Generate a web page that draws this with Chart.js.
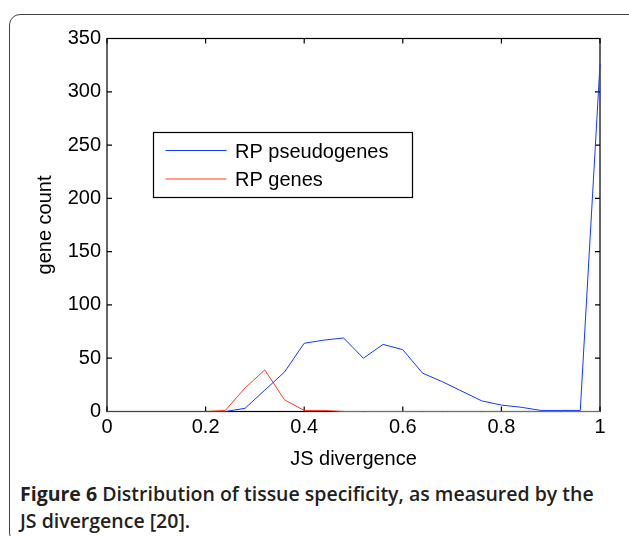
<!DOCTYPE html>
<html>
<head>
<meta charset="utf-8">
<script src="https://cdn.jsdelivr.net/npm/chart.js@4.4.0/dist/chart.umd.min.js"></script>
<style>
  body { margin: 0; background: #fff; width: 629px; height: 536px; overflow: hidden; position: relative; }
  #frame { position: absolute; left: 9px; top: 14px; width: 640px; height: 530px; border: 1.5px solid #444; border-radius: 11px; box-sizing: border-box; }
  #plot { position: absolute; left: 0; top: 0; }
  #caption { position: absolute; left: 20px; top: 480px; width: 610px; white-space: nowrap; font-family: "Open Sans", sans-serif; font-size: 19.5px; line-height: 27px; color: #231f20; font-weight: 600; }
  #caption b { font-weight: 700; }
</style>
</head>
<body>
<div id="frame"></div>
<canvas id="plot" width="629" height="480"></canvas>
<div id="caption"><b>Figure 6</b> Distribution of tissue specificity, as measured by the<br>JS divergence [20].</div>

<script>
// bin centres on the JS divergence axis
var bins = [0, 0.04, 0.08, 0.12, 0.16, 0.20, 0.24, 0.28, 0.32, 0.36, 0.40, 0.44, 0.48,
            0.52, 0.56, 0.60, 0.64, 0.68, 0.72, 0.76, 0.80, 0.84, 0.88, 0.92, 0.96, 1.00];

var pseudogeneCounts = [0, 0, 0, 0, 0, 0, 0, 3, 20, 37, 64, 67, 69,
                        50, 63, 58, 36, 28, 19, 10, 6, 4, 1, 1, 1, 326];

var geneCounts = [0, 0, 0, 0, 0, 0, 1, 22, 39, 11, 1, 1, 0,
                  0, 0, 0, 0, 0, 0, 0, 0, 0, 0, 0, 0, 0];

var xTicks = [0, 0.2, 0.4, 0.6, 0.8, 1];
var yTicks = [0, 50, 100, 150, 200, 250, 300, 350];

var seriesNames = ['RP pseudogenes', 'RP genes'];
var seriesColors = ['#1538ff', '#ff3a1f'];

var axisFont = { family: 'Liberation Sans, Arial, sans-serif', size: 20 };

function toPoints(vals) {
	return bins.map(function (b, i) { return { x: b, y: vals[i] }; });
}

// box around the axes with the ticks pointing inwards, like matlab
var frameBox = {
	id: 'frameBox',
	beforeDatasetsDraw: function (chart) {
		var ctx = chart.ctx;
		var a = chart.chartArea;
		var xs = chart.scales.x, ys = chart.scales.y;
		var len = 5;
		ctx.save();
		ctx.strokeStyle = '#000';
		ctx.lineWidth = 1.2;
		ctx.strokeRect(a.left, a.top, a.right - a.left, a.bottom - a.top);
		ctx.beginPath();
		xTicks.forEach(function (t) {
			var px = xs.getPixelForValue(t);
			ctx.moveTo(px, a.bottom); ctx.lineTo(px, a.bottom - len);
			ctx.moveTo(px, a.top); ctx.lineTo(px, a.top + len);
		});
		yTicks.forEach(function (t) {
			var py = ys.getPixelForValue(t);
			ctx.moveTo(a.left, py); ctx.lineTo(a.left + len, py);
			ctx.moveTo(a.right, py); ctx.lineTo(a.right - len, py);
		});
		ctx.stroke();
		ctx.restore();
	}
};

// legend box sitting inside the plot
var boxLegend = {
	id: 'boxLegend',
	afterDraw: function (chart) {
		var ctx = chart.ctx;
		var x0 = 153.5, y0 = 132.5, w = 259, h = 65;
		ctx.save();
		ctx.fillStyle = '#fff';
		ctx.fillRect(x0, y0, w, h);
		ctx.strokeStyle = '#000';
		ctx.lineWidth = 1.2;
		ctx.strokeRect(x0, y0, w, h);
		ctx.font = '20px ' + axisFont.family;
		ctx.textBaseline = 'middle';
		chart.data.datasets.forEach(function (ds, i) {
			var ly = y0 + 18 + i * 28.5;
			ctx.strokeStyle = ds.borderColor;
			ctx.lineWidth = 1;
			ctx.beginPath();
			ctx.moveTo(x0 + 12, ly);
			ctx.lineTo(x0 + 73, ly);
			ctx.stroke();
			ctx.fillStyle = '#000';
			ctx.fillText(ds.label, x0 + 81.5, ly + 1.5);
		});
		ctx.restore();
	}
};

new Chart(document.getElementById('plot'), {
	type: 'line',
	data: {
		datasets: [{
			label: seriesNames[0],
			data: toPoints(pseudogeneCounts),
			borderColor: seriesColors[0],
			borderWidth: 1,
			pointRadius: 0,
			tension: 0,
			fill: false,
			clip: false
		}, {
			label: seriesNames[1],
			data: toPoints(geneCounts),
			borderColor: seriesColors[1],
			borderWidth: 1,
			pointRadius: 0,
			tension: 0,
			fill: false,
			clip: false
		}]
	},
	options: {
		responsive: false,
		animation: false,
		devicePixelRatio: 1,
		layout: { padding: { top: 38.5, right: 29, left: 0, bottom: 0 } },
		plugins: { legend: { display: false }, tooltip: { enabled: false } },
		scales: {
			x: {
				type: 'linear',
				min: 0, max: 1,
				afterFit: function (s) { s.height = 68.5; },
				afterBuildTicks: function (s) { s.ticks = xTicks.map(function (v) { return { value: v }; }); },
				grid: { display: false, drawTicks: false },
				border: { display: false },
				ticks: { color: '#000', font: axisFont, padding: 4, maxRotation: 0,
					callback: function (v) { return String(v); } },
				title: { display: true, text: 'JS divergence', color: '#000', font: axisFont, padding: { bottom: 9 } }
			},
			y: {
				min: 0, max: 350,
				afterFit: function (s) { s.width = 107; },
				afterBuildTicks: function (s) { s.ticks = yTicks.map(function (v) { return { value: v }; }); },
				grid: { display: false, drawTicks: false },
				border: { display: false },
				ticks: { color: '#000', font: axisFont, padding: 6 },
				title: { display: true, text: 'gene count', color: '#000', font: axisFont, padding: { top: 33 } }
			}
		}
	},
	plugins: [frameBox, boxLegend]
});
</script>
</body>
</html>
